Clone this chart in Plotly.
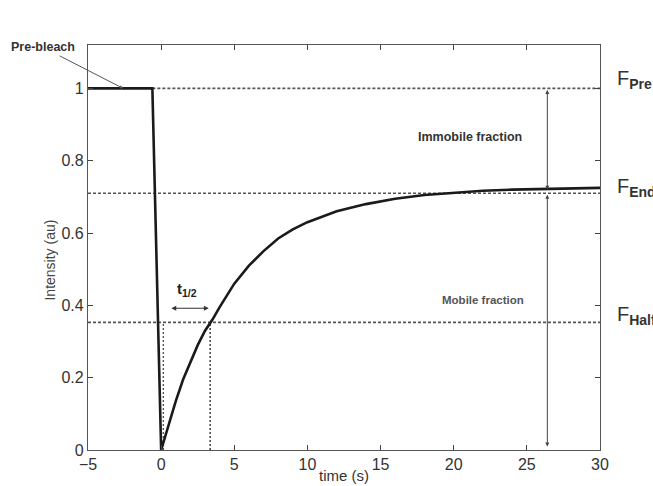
import plotly.graph_objects as go

# ---- data ----
time_s = [-5, -0.6, 0, 0.5, 1, 1.5, 2, 2.5, 3, 3.5, 4, 5, 6, 7, 8, 9, 10,
          12, 14, 16, 18, 20, 22, 24, 26, 28, 30]
intensity = [1.0, 1.0, 0.0, 0.07, 0.135, 0.195, 0.245, 0.29, 0.33, 0.36, 0.395,
             0.46, 0.51, 0.55, 0.585, 0.61, 0.63, 0.66, 0.68, 0.695, 0.705,
             0.712, 0.717, 0.72, 0.722, 0.724, 0.725]

f_pre = 1.0
f_end = 0.71
f_half = 0.353
t_half = 3.35
arrow_t = 26.4

x_ticks = [-5, 0, 5, 10, 15, 20, 25, 30]
y_ticks = [0, 0.2, 0.4, 0.6, 0.8, 1]
y_ticklabels = ["0", "0.2", "0.4", "0.6", "0.8", "1"]

FONT = "Liberation Sans, Arial, sans-serif"
DASH_COLOR = "#555555"
DASH = "3px,2px"

fig = go.Figure()

# reference lines
fig.add_trace(go.Scatter(x=[-0.6, 30], y=[f_pre, f_pre], mode="lines",
                         line=dict(color=DASH_COLOR, width=1.6, dash=DASH), hoverinfo="skip"))
fig.add_trace(go.Scatter(x=[-5, 30], y=[f_end, f_end], mode="lines",
                         line=dict(color=DASH_COLOR, width=1.6, dash=DASH), hoverinfo="skip"))
fig.add_trace(go.Scatter(x=[-5, 30], y=[f_half, f_half], mode="lines",
                         line=dict(color=DASH_COLOR, width=1.6, dash=DASH), hoverinfo="skip"))
fig.add_trace(go.Scatter(x=[0.15, 0.15], y=[0, f_half], mode="lines",
                         line=dict(color=DASH_COLOR, width=1.4, dash="2px,2px"), hoverinfo="skip"))
fig.add_trace(go.Scatter(x=[t_half, t_half], y=[0, f_half], mode="lines",
                         line=dict(color="#333333", width=1.4, dash="2px,2px"), hoverinfo="skip"))

# main curve
fig.add_trace(go.Scatter(x=time_s, y=intensity, mode="lines",
                         line=dict(color="#1a1a1a", width=2.6), hoverinfo="skip"))

ann = []
# Pre-bleach with arrow
ann.append(dict(x=-2.6, y=1.0, xref="x", yref="y", text="<b>Pre-bleach</b>",
                showarrow=True, arrowhead=2, arrowsize=0.7, arrowwidth=1,
                arrowcolor="#555555", ax=-80, ay=-41,
                font=dict(family=FONT, size=12.5, color="#333333")))
# immobile fraction arrow
ann.append(dict(x=arrow_t, y=f_end + 0.01, xref="x", yref="y",
                ax=arrow_t, ay=f_pre, axref="x", ayref="y", text="",
                showarrow=True, arrowhead=2, arrowside="end+start", arrowsize=0.8,
                arrowwidth=1, arrowcolor="#444444"))
# mobile fraction arrow
ann.append(dict(x=arrow_t, y=0.01, xref="x", yref="y",
                ax=arrow_t, ay=f_end, axref="x", ayref="y", text="",
                showarrow=True, arrowhead=2, arrowside="end+start", arrowsize=0.8,
                arrowwidth=1, arrowcolor="#444444"))
# t1/2 arrow
ann.append(dict(x=t_half - 0.1, y=0.392, xref="x", yref="y",
                ax=0.6, ay=0.392, axref="x", ayref="y", text="",
                showarrow=True, arrowhead=2, arrowside="end+start", arrowsize=0.8,
                arrowwidth=1.2, arrowcolor="#333333"))
ann.append(dict(x=1.8, y=0.445, xref="x", yref="y", showarrow=False,
                text="<b>t<sub>1/2</sub></b>",
                font=dict(family=FONT, size=15, color="#222222")))
ann.append(dict(x=21.1, y=0.865, xref="x", yref="y", showarrow=False,
                text="<b>Immobile fraction</b>",
                font=dict(family=FONT, size=12.5, color="#333333")))
ann.append(dict(x=22.0, y=0.415, xref="x", yref="y", showarrow=False,
                text="<b>Mobile fraction</b>",
                font=dict(family=FONT, size=11.5, color="#555555")))
# right-side labels
for lbl, yv in [("Pre", f_pre + 0.025), ("End", f_end + 0.015), ("Half", f_half + 0.02)]:
    ann.append(dict(x=1.03, y=yv, xref="paper", yref="y", showarrow=False,
                    xanchor="left", yanchor="middle",
                    text="F<sub><b>" + lbl + "</b></sub>",
                    font=dict(family=FONT, size=20, color="#333333")))
# axis titles
ann.append(dict(x=0.5, y=-0.036, xref="paper", yref="paper", showarrow=False,
                yanchor="top", text="time (s)",
                font=dict(family=FONT, size=15, color="#333333")))
ann.append(dict(x=-0.094, y=0.47, xref="paper", yref="paper", showarrow=False,
                textangle=-90, text="Intensity (au)",
                font=dict(family=FONT, size=14, color="#444444")))

fig.update_layout(
    width=653, height=486,
    margin=dict(l=88, r=53, t=45, b=36),
    paper_bgcolor="white", plot_bgcolor="white",
    showlegend=False,
    annotations=ann,
    font=dict(family=FONT, color="#333333"),
)
fig.update_xaxes(range=[-5, 30], tickvals=x_ticks, ticks="inside", ticklen=5,
                 showline=True, linecolor="#555555", linewidth=1.2, mirror="ticks",
                 showgrid=False, zeroline=False,
                 tickfont=dict(family=FONT, size=16, color="#333333"))
fig.update_yaxes(range=[0, 1.12], tickvals=y_ticks, ticktext=y_ticklabels,
                 ticks="inside", ticklen=5,
                 showline=True, linecolor="#555555", linewidth=1.2, mirror="ticks",
                 showgrid=False, zeroline=False,
                 tickfont=dict(family=FONT, size=16, color="#333333"))

fig.write_html("out.html", config={"displayModeBar": False},
               post_script="document.body.style.margin='0px';document.body.style.overflow='hidden';")
